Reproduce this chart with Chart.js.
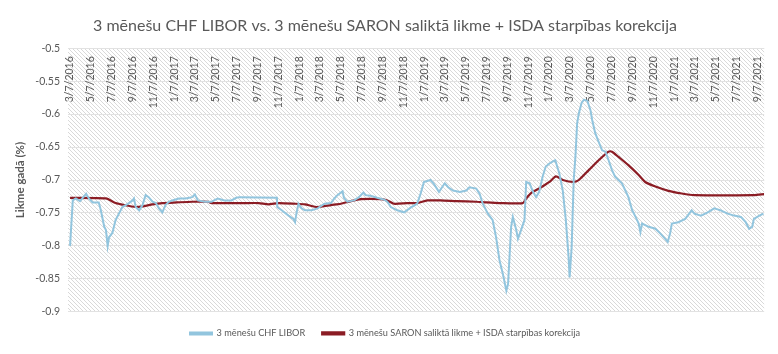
<!DOCTYPE html>
<html><head><meta charset="utf-8">
<script src="https://cdn.jsdelivr.net/npm/chart.js@4"></script>
<style>html,body{margin:0;padding:0;background:#fff}#wrap{width:778px;height:354px;position:relative}</style>
</head><body><div id="wrap"><canvas id="c"></canvas></div>
<script>
const liborDates = ['2016-03-07','2016-03-15','2016-03-24','2016-04-05','2016-04-23','2016-05-01','2016-05-12','2016-05-30','2016-06-05','2016-06-15','2016-06-20','2016-06-25','2016-06-29','2016-07-09','2016-07-18','2016-07-28','2016-08-07','2016-08-17','2016-08-26','2016-09-06','2016-09-10','2016-09-15','2016-09-25','2016-10-05','2016-10-14','2016-10-23','2016-11-03','2016-11-13','2016-11-22','2016-12-02','2016-12-11','2016-12-21','2016-12-31','2017-01-19','2017-02-08','2017-02-27','2017-03-07','2017-03-16','2017-04-05','2017-04-25','2017-05-13','2017-06-02','2017-06-22','2017-07-06','2017-07-15','2017-11-02','2017-11-03','2017-11-16','2017-12-06','2017-12-20','2017-12-25','2017-12-29','2018-01-04','2018-01-13','2018-01-23','2018-02-11','2018-03-01','2018-03-21','2018-04-09','2018-04-19','2018-04-28','2018-05-13','2018-05-17','2018-05-27','2018-06-16','2018-06-30','2018-07-13','2018-07-19','2018-08-03','2018-08-22','2018-09-12','2018-09-21','2018-10-01','2018-10-20','2018-11-09','2018-11-28','2018-12-17','2018-12-27','2019-01-06','2019-01-25','2019-02-04','2019-02-19','2019-02-28','2019-03-08','2019-03-18','2019-04-01','2019-04-21','2019-05-10','2019-05-19','2019-06-08','2019-06-18','2019-06-27','2019-07-12','2019-07-26','2019-08-05','2019-08-15','2019-08-25','2019-09-04','2019-09-09','2019-09-18','2019-09-23','2019-10-03','2019-10-08','2019-10-17','2019-10-27','2019-11-01','2019-11-11','2019-11-21','2019-11-30','2019-12-09','2019-12-19','2019-12-28','2020-01-08','2020-01-17','2020-01-25','2020-02-06','2020-02-16','2020-02-25','2020-03-04','2020-03-07','2020-03-13','2020-03-19','2020-03-24','2020-03-29','2020-04-03','2020-04-11','2020-04-18','2020-04-28','2020-05-07','2020-05-12','2020-05-21','2020-05-31','2020-06-10','2020-06-20','2020-06-29','2020-07-09','2020-07-18','2020-07-28','2020-08-07','2020-08-17','2020-08-26','2020-09-06','2020-09-16','2020-09-25','2020-09-30','2020-10-05','2020-10-24','2020-11-13','2020-11-27','2020-12-11','2020-12-19','2020-12-26','2020-12-31','2021-01-19','2021-02-08','2021-02-27','2021-03-07','2021-03-26','2021-04-15','2021-05-04','2021-05-23','2021-06-12','2021-07-01','2021-07-21','2021-08-04','2021-08-14','2021-08-23','2021-08-28','2021-09-13','2021-09-25'];
const liborValues = [-0.800,-0.731,-0.728,-0.732,-0.721,-0.728,-0.734,-0.734,-0.746,-0.771,-0.776,-0.800,-0.787,-0.780,-0.761,-0.751,-0.741,-0.738,-0.735,-0.731,-0.728,-0.741,-0.746,-0.738,-0.723,-0.726,-0.733,-0.735,-0.743,-0.749,-0.738,-0.733,-0.731,-0.728,-0.728,-0.726,-0.722,-0.731,-0.733,-0.733,-0.728,-0.731,-0.731,-0.727,-0.726,-0.727,-0.741,-0.746,-0.754,-0.759,-0.764,-0.751,-0.736,-0.743,-0.746,-0.746,-0.743,-0.736,-0.735,-0.728,-0.723,-0.717,-0.727,-0.733,-0.731,-0.726,-0.719,-0.723,-0.724,-0.727,-0.730,-0.733,-0.741,-0.746,-0.749,-0.742,-0.736,-0.721,-0.703,-0.700,-0.706,-0.718,-0.711,-0.705,-0.711,-0.716,-0.718,-0.716,-0.711,-0.713,-0.721,-0.736,-0.751,-0.761,-0.787,-0.822,-0.843,-0.868,-0.858,-0.771,-0.756,-0.776,-0.789,-0.776,-0.761,-0.703,-0.705,-0.718,-0.726,-0.718,-0.695,-0.680,-0.675,-0.672,-0.670,-0.690,-0.716,-0.761,-0.817,-0.848,-0.802,-0.700,-0.665,-0.614,-0.599,-0.583,-0.578,-0.580,-0.594,-0.609,-0.629,-0.642,-0.655,-0.657,-0.670,-0.685,-0.695,-0.700,-0.705,-0.716,-0.726,-0.746,-0.756,-0.766,-0.779,-0.766,-0.771,-0.774,-0.781,-0.789,-0.794,-0.781,-0.766,-0.764,-0.759,-0.746,-0.751,-0.754,-0.749,-0.743,-0.746,-0.751,-0.754,-0.756,-0.764,-0.774,-0.771,-0.759,-0.754,-0.751];

const saronDates = ['2016-03-07','2016-06-20','2016-07-18','2016-08-12','2016-09-15','2016-10-05','2016-11-03','2016-12-02','2017-01-13','2017-02-27','2017-04-15','2017-04-25','2017-07-30','2017-09-10','2017-10-08','2017-11-07','2017-12-25','2018-01-23','2018-03-01','2018-04-09','2018-05-08','2018-06-06','2018-07-05','2018-09-02','2018-09-21','2018-10-10','2018-11-18','2018-12-17','2019-01-16','2019-02-23','2019-04-11','2019-06-08','2019-07-07','2019-08-15','2019-10-22','2019-11-01','2019-11-16','2019-12-09','2020-01-08','2020-01-27','2020-02-16','2020-03-18','2020-04-03','2020-05-02','2020-05-31','2020-06-29','2020-07-09','2020-07-28','2020-08-26','2020-09-25','2020-10-14','2020-11-13','2020-12-21','2021-01-29','2021-03-07','2021-08-28','2021-09-27'];
const saronValues = [-0.727,-0.728,-0.735,-0.738,-0.741,-0.740,-0.737,-0.735,-0.734,-0.733,-0.733,-0.735,-0.735,-0.735,-0.737,-0.735,-0.736,-0.737,-0.741,-0.738,-0.736,-0.732,-0.729,-0.729,-0.731,-0.736,-0.735,-0.735,-0.731,-0.731,-0.732,-0.733,-0.734,-0.735,-0.735,-0.728,-0.7195,-0.713,-0.703,-0.6945,-0.700,-0.703,-0.700,-0.685,-0.670,-0.657,-0.657,-0.665,-0.6775,-0.6925,-0.703,-0.710,-0.7165,-0.7205,-0.723,-0.723,-0.7215];

const tickLabels = ['3/7/2016','5/7/2016','7/7/2016','9/7/2016','11/7/2016','1/7/2017','3/7/2017','5/7/2017','7/7/2017','9/7/2017','11/7/2017','1/7/2018','3/7/2018','5/7/2018','7/7/2018','9/7/2018','11/7/2018','1/7/2019','3/7/2019','5/7/2019','7/7/2019','9/7/2019','11/7/2019','1/7/2020','3/7/2020','5/7/2020','7/7/2020','9/7/2020','11/7/2020','1/7/2021','3/7/2021','5/7/2021','7/7/2021','9/7/2021'];

const seriesNames = ['3 mēnešu CHF LIBOR', '3 mēnešu SARON saliktā likme + ISDA starpības korekcija'];
const titleText = '3 mēnešu CHF LIBOR vs. 3 mēnešu SARON saliktā likme + ISDA starpības korekcija';
const yTitle = 'Likme gadā (%)';

function isoDay(s){const [y,m,d]=s.split('-').map(Number);return Date.UTC(y,m-1,d)/864e5;}
function usDay(s){const [m,d,y]=s.split('/').map(Number);return Date.UTC(y,m-1,d)/864e5;}
const tickMap = {}; tickLabels.forEach(l => { tickMap[usDay(l)] = l; });

const TXT = '#595959';
const FONT = 'Lato';

const hatch = (() => {
  const c = document.createElement('canvas'); c.width = 4; c.height = 4;
  const g = c.getContext('2d');
  g.fillStyle = '#ffffff'; g.fillRect(0,0,4,4);
  g.fillStyle = '#d9d9d9';
  for (let i=0;i<4;i++) g.fillRect(i,i,1,1);
  return g.createPattern(c,'repeat');
})();

const bgPlugin = {
  id: 'hatchBg',
  beforeDraw(chart){
    const {ctx, chartArea:a} = chart;
    ctx.save(); ctx.fillStyle = hatch; ctx.fillRect(a.left, a.top, a.right-a.left, a.bottom-a.top); ctx.restore();
  }
};

new Chart(document.getElementById('c'), {
  type: 'line',
  data: {
    datasets: [
      { label: seriesNames[0], data: liborDates.map((d,i)=>({x: isoDay(d), y: liborValues[i]})),
        borderColor: '#92c5de', backgroundColor: '#92c5de', borderWidth: 2, pointRadius: 0, tension: 0 },
      { label: seriesNames[1], data: saronDates.map((d,i)=>({x: isoDay(d), y: saronValues[i]})),
        borderColor: '#8b1c24', backgroundColor: '#8b1c24', borderWidth: 2.2, pointRadius: 0, tension: 0.2 }
    ]
  },
  options: {
    responsive: true, maintainAspectRatio: false, animation: false,
    layout: { padding: { left: 0, right: 8, top: 0, bottom: 6 } },
    plugins: {
      title: { display: true, text: titleText, color: TXT, font: { family: FONT, size: 16, weight: 'normal' }, padding: { top: 16, bottom: 13 } },
      legend: { position: 'bottom', labels: { color: TXT, font: { family: FONT, size: 9.2 }, boxWidth: 22, boxHeight: 2, padding: 17 } },
      tooltip: { enabled: false }
    },
    scales: {
      x: {
        type: 'linear', position: { y: -0.5 },
        min: isoDay('2016-03-01'), max: isoDay('2021-09-27'),
        grid: { display: false, drawTicks: false }, border: { display: false },
        afterBuildTicks: s => { s.ticks = tickLabels.map(l => ({ value: usDay(l) })); },
        ticks: { autoSkip: false, minRotation: 90, maxRotation: 90, padding: 8, color: TXT, font: { family: FONT, size: 10.5 },
          callback: v => tickMap[v] || '' }
      },
      y: {
        min: -0.9, max: -0.5,
        afterFit: s => { s.width = 68; },
        grid: { color: '#e2e2e2', lineWidth: 1, drawTicks: false }, border: { display: false },
        ticks: { stepSize: 0.05, padding: 8, color: TXT, font: { family: FONT, size: 10.5 }, callback: v => String(Number(v.toFixed(2))) },
        title: { display: true, text: yTitle, color: TXT, font: { family: FONT, size: 11.5, weight: 'bold' }, padding: { top: 13, bottom: 0 } }
      }
    }
  },
  plugins: [bgPlugin]
});
</script></body></html>
